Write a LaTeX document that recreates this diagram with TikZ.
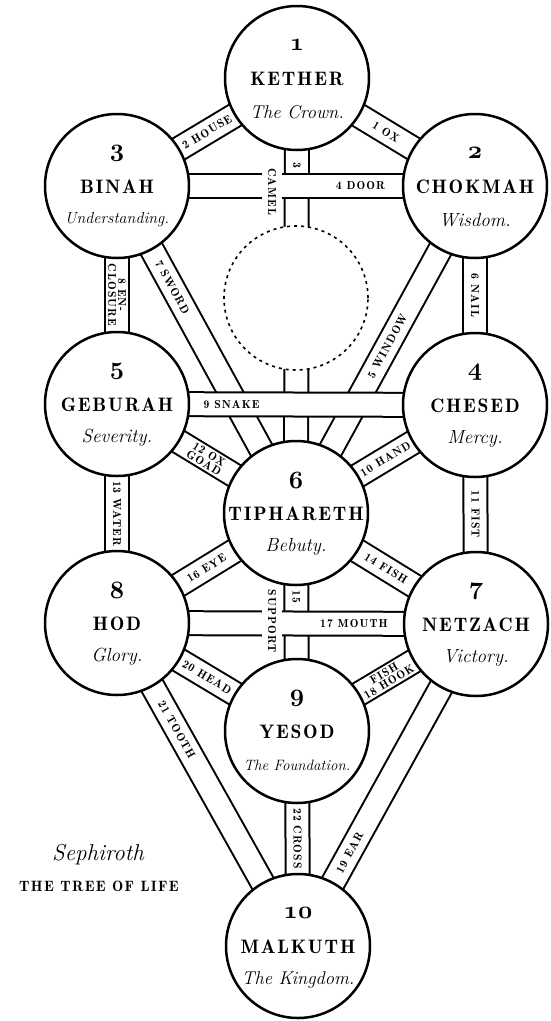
\documentclass[tikz,border=0pt]{standalone}
\usepackage{fontspec}
\usetikzlibrary{backgrounds}
\newfontfamily\spaced{lmromandemi10-regular}[Extension=.otf,LetterSpace=9]
\newcommand\osf[1]{{\usefont{OML}{cmm}{b}{it}#1}}

\begin{document}
\begin{tikzpicture}[x=1pt,y=-1pt,
    sephira/.style={circle,draw,line width=2.5pt,fill=white,minimum size=144pt,inner sep=0pt},
    daath/.style={circle,draw,dash pattern=on 3pt off 4pt,line width=1.6pt,fill=white,minimum size=144pt,inner sep=0pt},
    channel/.style={draw,double=white,double distance=22pt,line width=2pt},
    num/.style={font=\fontsize{25}{25}\selectfont},
    nm/.style={font=\spaced\fontsize{19.5}{20}\selectfont},
    sbt/.style={font=\fontsize{#1}{#1}\selectfont\itshape},
    lbl/.style={font=\spaced\fontsize{11.6}{10}\selectfont,inner sep=1pt,align=center},
    vlbl/.style={lbl,rotate=-90},
    gap/.style={vlbl,fill=white,inner ysep=5.6pt}]
  \useasboundingbox (0,0) rectangle (550,1021);
  % the ten sephiroth
  \foreach \id/\x/\y/\n/\ttl/\sub/\fs in {
      kether/297/78/1/KETHER/The Crown./18.5,
      chokmah/475/186/2/CHOKMAH/Wisdom./19,
      binah/117/186/3/BINAH/Understanding./16,
      chesed/475/405/4/CHESED/Mercy./19,
      geburah/117/404/5/GEBURAH/Severity./19,
      tiphareth/296/513/6/TIPHARETH/Bebuty./19,
      netzach/476/624/7/NETZACH/Victory./19,
      hod/117/623/8/HOD/Glory./19,
      yesod/297/731/9/YESOD/The Foundation./15,
      malkuth/298/946/10/MALKUTH/The Kingdom./18.5}{
    \node[sephira] (\id) at (\x,\y) {};
    \node[num] (\id-n) at (\x,\y-33) {\osf{\n}};
    \node[nm] (\id-t) at (\x,\y+1) {\ttl};
    \node[sbt=\fs] (\id-s) at (\x,\y+34) {\sub};
  }
  \node[daath] (daath) at (296,298) {};

  % the 22 paths, lowest first
  \begin{scope}[on background layer]
    \draw[channel] (kether.center) -- (tiphareth.center) node[vlbl,pos=0.2] (p3) {3};
    \draw[channel] (binah.center) -- (tiphareth.center) node[lbl,sloped,pos=0.31] (p7) {7 SWORD};
    \draw[channel] (tiphareth.center) -- (chokmah.center) node[lbl,sloped,pos=0.51] (p5) {5 WINDOW};
    \draw[channel] (tiphareth.center) -- (yesod.center) node[vlbl,pos=0.385] (p15) {15};
    \draw[channel] (kether.center) -- (chokmah.center) node[lbl,sloped,midway] (p1) {1 OX};
    \draw[channel] (binah.center) -- (kether.center) node[lbl,sloped,midway] (p2) {2 HOUSE};
    \draw[channel] (binah.center) -- (chokmah.center) node[lbl,pos=0.68] (p4) {4 DOOR};
    \draw[channel] (chokmah.center) -- (chesed.center) node[vlbl,midway] (p6) {6 NAIL};
    \draw[channel] (binah.center) -- (geburah.center) node[vlbl,midway] (p8) {8 EN-\\CLOSURE};
    \draw[channel] (geburah.center) -- (chesed.center) node[lbl,pos=0.32] (p9) {9 SNAKE};
    \draw[channel] (tiphareth.center) -- (chesed.center) node[lbl,sloped,midway] (p10) {10 HAND};
    \draw[channel] (chesed.center) -- (netzach.center) node[vlbl,midway] (p11) {11 FIST};
    \draw[channel] (geburah.center) -- (tiphareth.center) node[lbl,sloped,midway] (p12) {12 OX\\GOAD};
    \draw[channel] (geburah.center) -- (hod.center) node[vlbl,midway] (p13) {13 WATER};
    \draw[channel] (tiphareth.center) -- (netzach.center) node[lbl,sloped,midway] (p14) {14 FISH};
    \draw[channel] (hod.center) -- (tiphareth.center) node[lbl,sloped,midway] (p16) {16 EYE};
    \draw[channel] (hod.center) -- (netzach.center) node[lbl,pos=0.66] (p17) {17 MOUTH};
    \draw[channel] (yesod.center) -- (netzach.center) node[lbl,sloped,midway] (p18) {FISH\\18 HOOK};
    \draw[channel] (malkuth.center) -- (netzach.center) node[lbl,sloped,pos=0.29] (p19) {19 EAR};
    \draw[channel] (hod.center) -- (yesod.center) node[lbl,sloped,midway] (p20) {20 HEAD};
    \draw[channel] (hod.center) -- (malkuth.center) node[lbl,sloped,pos=0.33] (p21) {21 TOOTH};
    \draw[channel] (yesod.center) -- (malkuth.center) node[vlbl,midway] (p22) {22 CROSS};
    \node[gap] (camel) at (272,192) {CAMEL};
    \node[gap] (support) at (272,621) {SUPPORT};
  \end{scope}

  \node[font=\fontsize{23}{23}\selectfont\itshape] (title) at (98,855) {Sephiroth};
  \node[font=\spaced\fontsize{15}{15}\selectfont] (subtitle) at (99,886) {THE TREE OF LIFE};
\end{tikzpicture}
\end{document}
